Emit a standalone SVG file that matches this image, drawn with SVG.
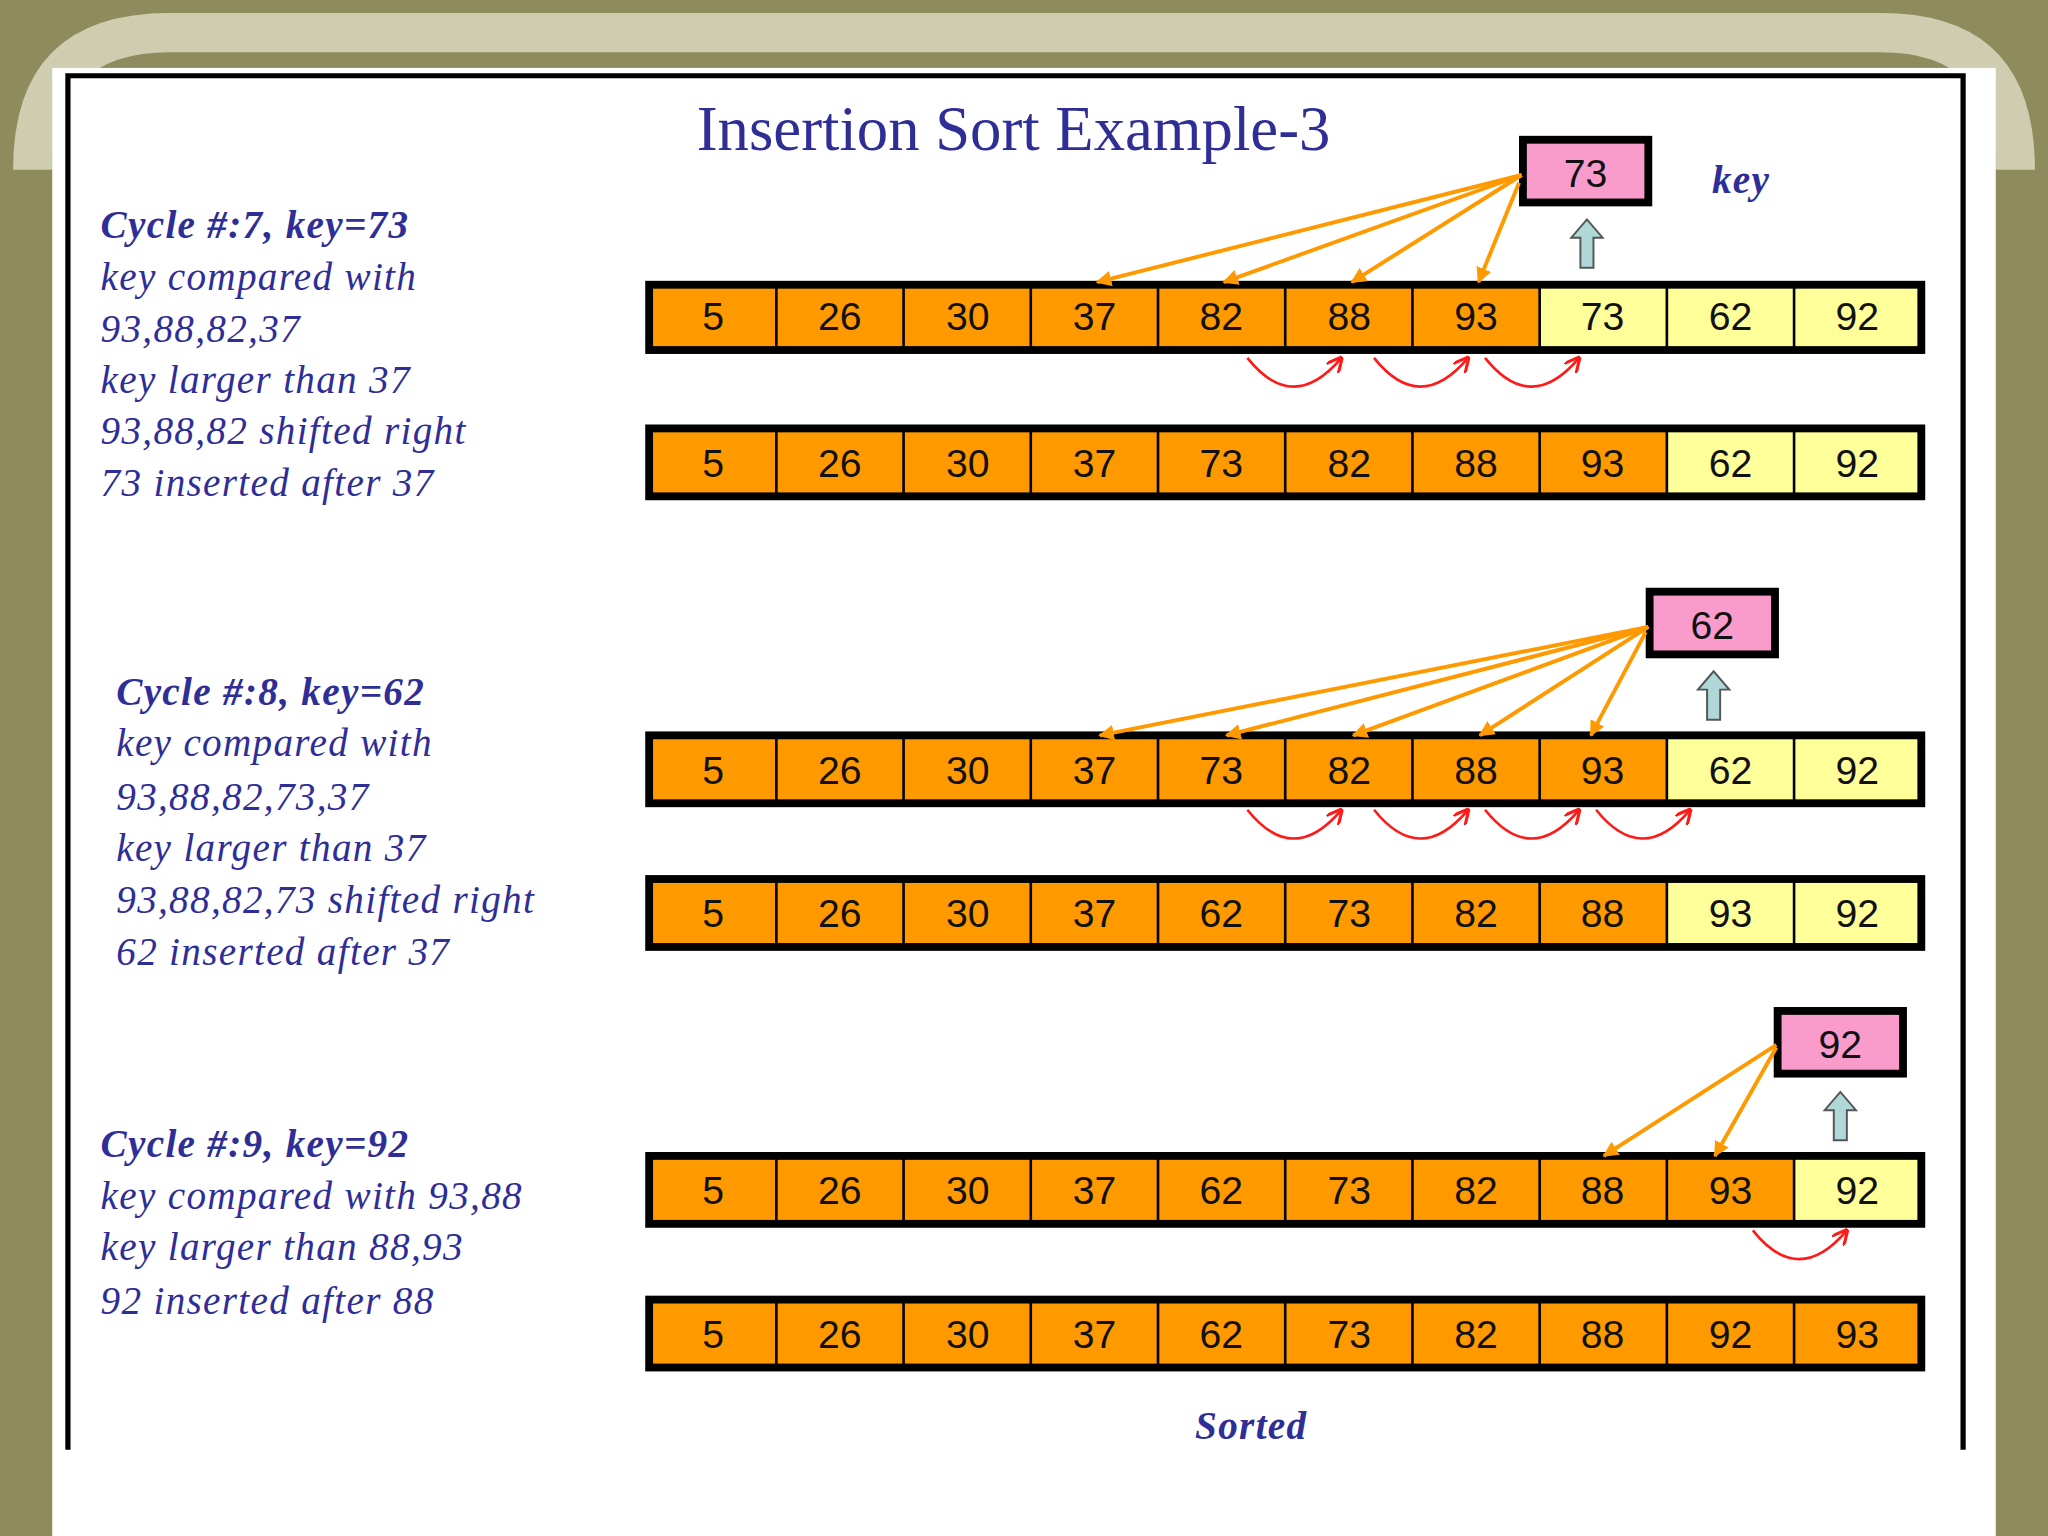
<svg xmlns="http://www.w3.org/2000/svg" width="2048" height="1536" viewBox="0 0 2048 1536">
<defs>
<style>
.t{font-family:"Liberation Serif",serif;font-style:italic;fill:#2e2e96;font-size:30px;letter-spacing:1px}
.b{font-weight:bold}
.n{font-family:"Liberation Sans Narrow","Liberation Sans",Arial,sans-serif;font-size:30px;fill:#111;text-anchor:middle}
.o{fill:#ff9900}.y{fill:#ffff99}
.frame{fill:none;stroke:#000;stroke-width:6}
.div{stroke:#000;stroke-width:2}
.key{fill:#f99ccc;stroke:#000;stroke-width:6}
.oa{stroke:#ff9900;stroke-width:3;fill:none;marker-end:url(#oh)}
.ra{stroke:#ff1a1a;stroke-width:2;fill:none;marker-end:url(#rh)}
.up{fill:#b0d8d8;stroke:#555;stroke-width:1.5}
</style>
<marker id="oh" viewBox="0 0 10 10" refX="9" refY="5" markerWidth="4" markerHeight="4" orient="auto"><path d="M0,0L10,5L0,10z" fill="#ff9900"/></marker>
<marker id="rh" viewBox="0 0 10 10" refX="9" refY="5" markerWidth="6" markerHeight="6" orient="auto"><path d="M0,0L10,5L0,10" fill="none" stroke="#ff1a1a" stroke-width="2"/></marker>
</defs>
<g transform="scale(1.30612)">
<rect width="1568" height="1176" fill="#8e8b5c"/>
<path d="M10,130 Q10,10 130,10 L1440,10 Q1558,10 1558,130 L1528,130 Q1528,40 1440,40 L130,40 Q40,40 40,130Z" fill="#cfcdb0"/>
<rect x="40" y="52" width="1488" height="1124" fill="#fff"/>
<path d="M52,1110 V58 H1503 V1110" fill="none" stroke="#000" stroke-width="4"/>
<text x="776" y="115" text-anchor="middle" font-family="Liberation Serif,serif" font-size="48" fill="#2e2e96">Insertion Sort Example-3</text>
<g id="text7" class="t">
<text x="77" y="182" class="b">Cycle #:7, key=73</text>
<text x="77" y="222">key compared with</text>
<text x="77" y="262">93,88,82,37</text>
<text x="77" y="301">key larger than 37</text>
<text x="77" y="340">93,88,82 shifted right</text>
<text x="77" y="380">73 inserted after 37</text>
</g>
<g id="text8" class="t">
<text x="89" y="540" class="b">Cycle #:8, key=62</text>
<text x="89" y="579">key compared with</text>
<text x="89" y="620">93,88,82,73,37</text>
<text x="89" y="659">key larger than 37</text>
<text x="89" y="699">93,88,82,73 shifted right</text>
<text x="89" y="739">62 inserted after 37</text>
</g>
<g id="text9" class="t">
<text x="77" y="886" class="b">Cycle #:9, key=92</text>
<text x="77" y="926">key compared with 93,88</text>
<text x="77" y="965">key larger than 88,93</text>
<text x="77" y="1006">92 inserted after 88</text>
</g>
<text x="1333" y="148" class="t b" text-anchor="middle">key</text>
<text x="958" y="1102" class="t b" text-anchor="middle">Sorted</text>

<g id="row1"><rect x="497" y="218" width="682" height="50" class="o"/><rect x="1179" y="218" width="292" height="50" class="y"/>
<path class="div" d="M594.4,218V268M691.8,218V268M789.2,218V268M886.6,218V268M984,218V268M1081.4,218V268M1178.8,218V268M1276.2,218V268M1373.6,218V268"/>
<rect x="497" y="218" width="974" height="50" class="frame"/>
<g class="n"><text x="546" y="253">5</text><text x="643" y="253">26</text><text x="741" y="253">30</text><text x="838" y="253">37</text><text x="935" y="253">82</text><text x="1033" y="253">88</text><text x="1130" y="253">93</text><text x="1227" y="253">73</text><text x="1325" y="253">62</text><text x="1422" y="253">92</text></g></g>

<g id="row2"><rect x="497" y="328" width="779" height="52" class="o"/><rect x="1276" y="328" width="195" height="52" class="y"/>
<path class="div" d="M594.4,328V380M691.8,328V380M789.2,328V380M886.6,328V380M984,328V380M1081.4,328V380M1178.8,328V380M1276.2,328V380M1373.6,328V380"/>
<rect x="497" y="328" width="974" height="52" class="frame"/>
<g class="n"><text x="546" y="365">5</text><text x="643" y="365">26</text><text x="741" y="365">30</text><text x="838" y="365">37</text><text x="935" y="365">73</text><text x="1033" y="365">82</text><text x="1130" y="365">88</text><text x="1227" y="365">93</text><text x="1325" y="365">62</text><text x="1422" y="365">92</text></g></g>

<g id="row3"><rect x="497" y="563" width="779" height="52" class="o"/><rect x="1276" y="563" width="195" height="52" class="y"/>
<path class="div" d="M594.4,563V615M691.8,563V615M789.2,563V615M886.6,563V615M984,563V615M1081.4,563V615M1178.8,563V615M1276.2,563V615M1373.6,563V615"/>
<rect x="497" y="563" width="974" height="52" class="frame"/>
<g class="n"><text x="546" y="600">5</text><text x="643" y="600">26</text><text x="741" y="600">30</text><text x="838" y="600">37</text><text x="935" y="600">73</text><text x="1033" y="600">82</text><text x="1130" y="600">88</text><text x="1227" y="600">93</text><text x="1325" y="600">62</text><text x="1422" y="600">92</text></g></g>

<g id="row4"><rect x="497" y="673" width="779" height="52" class="o"/><rect x="1276" y="673" width="195" height="52" class="y"/>
<path class="div" d="M594.4,673V725M691.8,673V725M789.2,673V725M886.6,673V725M984,673V725M1081.4,673V725M1178.8,673V725M1276.2,673V725M1373.6,673V725"/>
<rect x="497" y="673" width="974" height="52" class="frame"/>
<g class="n"><text x="546" y="710">5</text><text x="643" y="710">26</text><text x="741" y="710">30</text><text x="838" y="710">37</text><text x="935" y="710">62</text><text x="1033" y="710">73</text><text x="1130" y="710">82</text><text x="1227" y="710">88</text><text x="1325" y="710">93</text><text x="1422" y="710">92</text></g></g>

<g id="row5"><rect x="497" y="885" width="877" height="52" class="o"/><rect x="1374" y="885" width="97" height="52" class="y"/>
<path class="div" d="M594.4,885V937M691.8,885V937M789.2,885V937M886.6,885V937M984,885V937M1081.4,885V937M1178.8,885V937M1276.2,885V937M1373.6,885V937"/>
<rect x="497" y="885" width="974" height="52" class="frame"/>
<g class="n"><text x="546" y="922">5</text><text x="643" y="922">26</text><text x="741" y="922">30</text><text x="838" y="922">37</text><text x="935" y="922">62</text><text x="1033" y="922">73</text><text x="1130" y="922">82</text><text x="1227" y="922">88</text><text x="1325" y="922">93</text><text x="1422" y="922">92</text></g></g>

<g id="row6"><rect x="497" y="995" width="974" height="52" class="o"/>
<path class="div" d="M594.4,995V1047M691.8,995V1047M789.2,995V1047M886.6,995V1047M984,995V1047M1081.4,995V1047M1178.8,995V1047M1276.2,995V1047M1373.6,995V1047"/>
<rect x="497" y="995" width="974" height="52" class="frame"/>
<g class="n"><text x="546" y="1032">5</text><text x="643" y="1032">26</text><text x="741" y="1032">30</text><text x="838" y="1032">37</text><text x="935" y="1032">62</text><text x="1033" y="1032">73</text><text x="1130" y="1032">82</text><text x="1227" y="1032">88</text><text x="1325" y="1032">92</text><text x="1422" y="1032">93</text></g></g>

<g id="key73"><rect x="1166" y="107" width="96" height="48" class="key"/><text x="1214" y="143" class="n">73</text></g>
<g id="key62"><rect x="1263" y="453" width="96" height="48" class="key"/><text x="1311" y="489" class="n">62</text></g>
<g id="key92"><rect x="1361" y="774" width="96" height="48" class="key"/><text x="1409" y="810" class="n">92</text></g>

<g id="uparrows">
<path class="up" d="M1210,205V182H1203L1215,168L1227,182H1220V205Z"/>
<path class="up" d="M1307,551V528H1300L1312,514L1324,528H1317V551Z"/>
<path class="up" d="M1404,873V850H1397L1409,836L1421,850H1414V873Z"/>
</g>

<g id="connectors">
<path class="oa" d="M1165,134L840,216"/><path class="oa" d="M1165,134L937,216"/><path class="oa" d="M1165,134L1035,216"/><path class="oa" d="M1163,140L1132,216"/>
<path class="ra" d="M955,274Q990,318 1027,274"/><path class="ra" d="M1052,274Q1087,318 1124,274"/><path class="ra" d="M1137,274Q1172,318 1209,274"/>
<path class="oa" d="M1262,480L842,563"/><path class="oa" d="M1262,480L939,563"/><path class="oa" d="M1262,480L1036,563"/><path class="oa" d="M1262,480L1133,563"/><path class="oa" d="M1260,484L1218,563"/>
<path class="ra" d="M955,620Q990,664 1027,620"/><path class="ra" d="M1052,620Q1087,664 1124,620"/><path class="ra" d="M1137,620Q1172,664 1209,620"/><path class="ra" d="M1222,620Q1257,664 1294,620"/>
<path class="oa" d="M1360,800L1228,885"/><path class="oa" d="M1360,802L1313,885"/>
<path class="ra" d="M1342,942Q1377,986 1414,942"/>
</g>
</g>
</svg>
